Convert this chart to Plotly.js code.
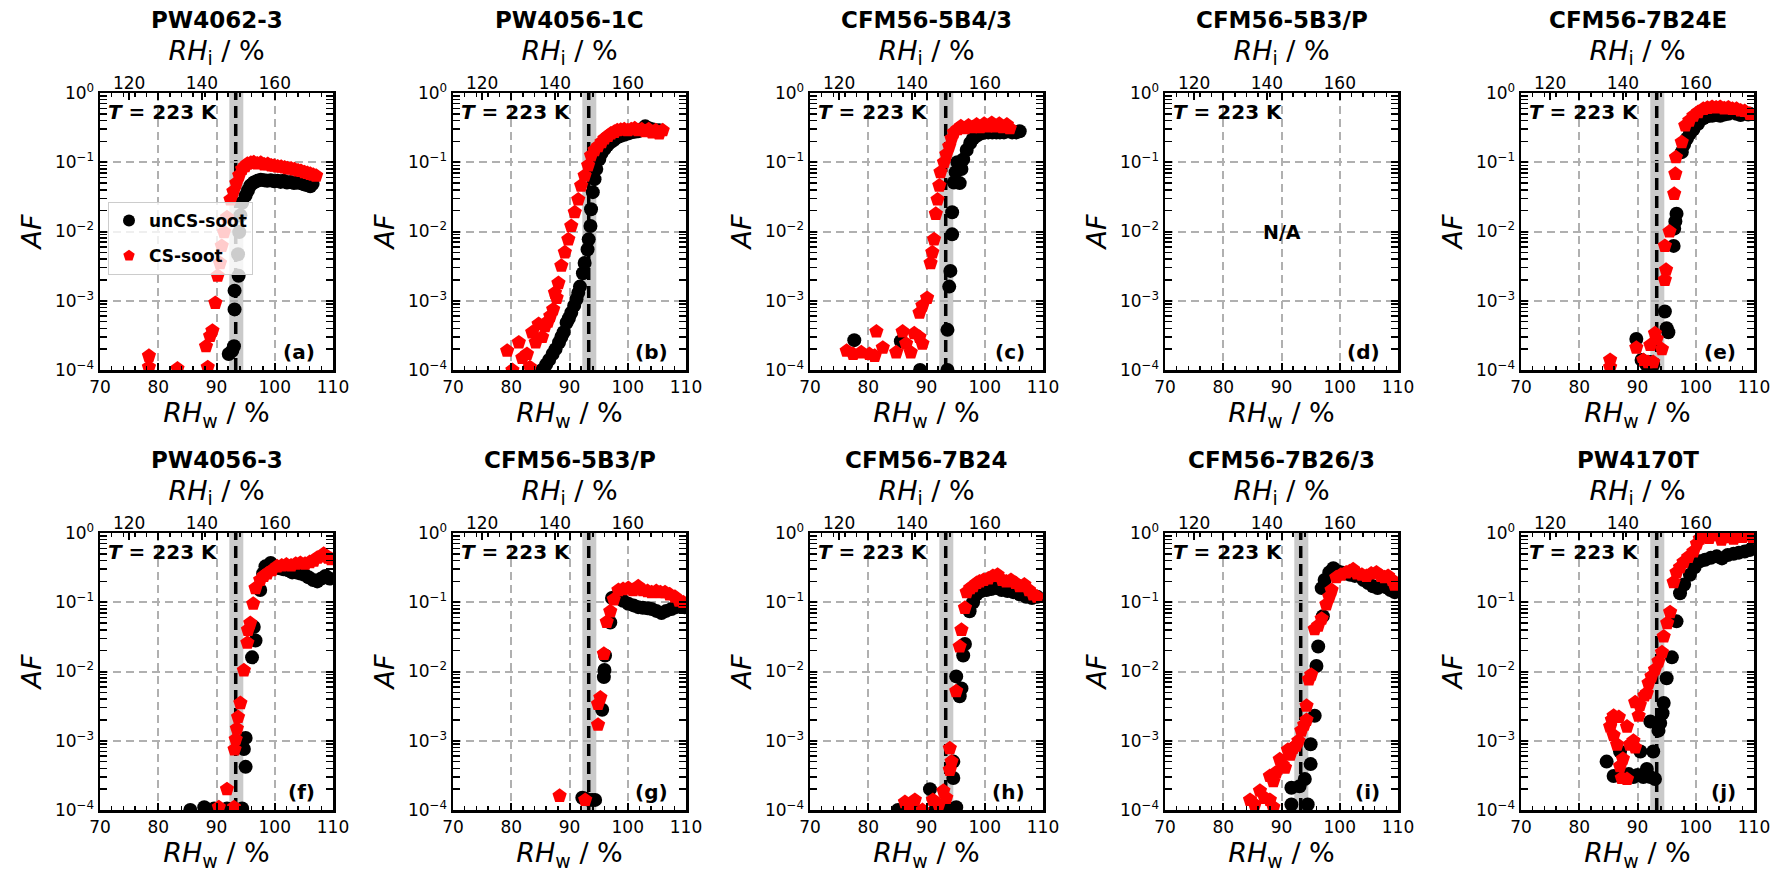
<!DOCTYPE html>
<html>
<head>
<meta charset="utf-8">
<script src="https://cdn.plot.ly/plotly-3.0.1.min.js"></script>
<style>
  html, body { margin: 0; padding: 0; background: #fff; }
  #chart { width: 1786px; height: 881px; }
</style>
</head>
<body>
<div id="chart"></div>
<script>
// ── Data: activated fraction (AF) vs RHw at T = 223 K, [RHw %, AF] pairs ──────
const ENGINES = ['PW4062-3', 'PW4056-1C', 'CFM56-5B4/3', 'CFM56-5B3/P', 'CFM56-7B24E',
                 'PW4056-3', 'CFM56-5B3/P', 'CFM56-7B24', 'CFM56-7B26/3', 'PW4170T'];
const PANEL_LABELS = ['(a)', '(b)', '(c)', '(d)', '(e)', '(f)', '(g)', '(h)', '(i)', '(j)'];
const SERIES_NAMES = ['unCS-soot', 'CS-soot'];

const RHI_TICKS   = [120, 140, 160];
const RHI_PER_RHW = 1.6;          // ice / water saturation ratio at 223 K
const ONSET_RHW   = 93.3;         // dashed line
const ONSET_BAND  = [92.2, 94.6]; // grey band

const unA = [[92.1,1.7e-4],[93.0,2.2e-4],[92.7,1.9e-4],[93.1,7.5e-4],[93.1,1.4e-3],[93.8,2.3e-3],[93.7,4.7e-3],[93.9,9.8e-3],[94.1,1.7e-2],[94.4,2.6e-2],[95.0,3.3e-2],[95.4,3.9e-2],[95.8,4.6e-2],[96.4,5.1e-2],[97.0,5.4e-2],[97.6,5.6e-2],[98.2,5.5e-2],[98.7,5.4e-2],[99.3,5.5e-2],[99.9,5.3e-2],[100.5,5.4e-2],[101.0,5.2e-2],[101.5,5.4e-2],[102.1,5.1e-2],[102.7,5.2e-2],[103.3,5.0e-2],[103.8,5.1e-2],[104.4,5.0e-2],[105.0,4.8e-2],[105.5,4.7e-2],[106.1,4.5e-2],[106.5,4.9e-2]];
const csA = [[78.4,1.6e-4],[78.4,1.1e-4],[83.3,1.05e-4],[88.5,1.1e-4],[88.2,2.2e-4],[88.9,3.1e-4],[89.3,3.7e-4],[89.8,9.3e-4],[90.2,2.3e-3],[90.6,3.5e-3],[90.9,6.2e-3],[91.3,9.8e-3],[91.8,1.6e-2],[92.4,2.9e-2],[92.9,3.8e-2],[93.4,5.0e-2],[93.9,6.5e-2],[94.4,8.0e-2],[94.9,8.8e-2],[95.3,9.5e-2],[95.9,9.8e-2],[96.4,1.0e-1],[97.0,9.6e-2],[97.6,9.8e-2],[98.2,9.3e-2],[98.8,9.4e-2],[99.4,9.0e-2],[99.9,8.9e-2],[100.5,8.7e-2],[101.1,8.6e-2],[101.7,8.4e-2],[102.2,8.2e-2],[102.8,8.1e-2],[103.4,7.9e-2],[104.0,7.6e-2],[104.5,7.5e-2],[105.1,7.2e-2],[105.6,7.0e-2],[106.1,6.8e-2],[106.6,6.6e-2],[107.1,6.4e-2]];

const unB = [[85.3,1.0e-4],[86.0,1.2e-4],[86.5,1.4e-4],[87.1,1.7e-4],[87.6,2.0e-4],[88.2,2.5e-4],[88.6,3.0e-4],[89.0,3.5e-4],[89.5,4.8e-4],[89.9,5.6e-4],[90.3,6.7e-4],[90.8,8.5e-4],[91.2,1.05e-3],[91.5,1.3e-3],[91.8,1.6e-3],[92.3,2.5e-3],[92.6,3.5e-3],[93.1,5.5e-3],[93.3,7.7e-3],[93.6,1.2e-2],[93.7,2.1e-2],[94.0,3.7e-2],[94.3,5.7e-2],[94.6,8.0e-2],[95.1,1.1e-1],[95.5,1.35e-1],[96.0,1.55e-1],[96.5,1.75e-1],[97.1,1.95e-1],[97.6,2.1e-1],[98.2,2.3e-1],[98.8,2.4e-1],[99.4,2.5e-1],[100.0,2.6e-1],[100.6,2.7e-1],[101.2,2.75e-1],[101.8,2.8e-1],[102.4,3.0e-1],[103.0,3.3e-1],[103.6,3.1e-1],[104.2,3.0e-1],[104.8,2.9e-1],[105.4,2.9e-1]];
const csB = [[79.3,1.9e-4],[80.2,1.0e-4],[81.3,2.5e-4],[81.9,1.5e-4],[82.7,1.7e-4],[83.2,1.1e-4],[83.6,3.5e-4],[84.2,2.5e-4],[84.7,4.6e-4],[85.3,3.0e-4],[85.8,4.3e-4],[86.3,5.0e-4],[86.7,6.0e-4],[87.2,7.5e-4],[87.5,1.3e-3],[87.8,1.1e-3],[88.1,1.8e-3],[88.6,3.2e-3],[89.2,5.0e-3],[89.8,7.7e-3],[90.3,1.2e-2],[90.9,1.9e-2],[91.5,2.9e-2],[92.0,4.6e-2],[92.6,6.4e-2],[93.2,9.0e-2],[93.7,1.25e-1],[94.3,1.5e-1],[94.9,1.7e-1],[95.5,1.95e-1],[96.0,2.2e-1],[96.6,2.4e-1],[97.1,2.6e-1],[97.7,2.75e-1],[98.2,2.9e-1],[98.8,2.95e-1],[99.4,3.0e-1],[100.0,2.9e-1],[100.6,3.0e-1],[101.2,3.1e-1],[101.8,2.9e-1],[102.4,3.0e-1],[103.0,2.8e-1],[103.6,3.0e-1],[104.2,2.7e-1],[104.8,2.9e-1],[105.4,2.6e-1],[106.0,2.9e-1]];

const unC = [[77.6,2.7e-4],[85.6,2.6e-4],[88.9,1.0e-4],[93.6,1.0e-4],[93.6,3.8e-4],[93.9,1.6e-3],[94.1,2.7e-3],[94.4,9.1e-3],[94.4,1.9e-2],[94.7,5.1e-2],[95.0,7.2e-2],[95.3,1.0e-1],[95.7,5.0e-2],[96.0,8.0e-2],[96.3,1.1e-1],[96.9,1.5e-1],[97.5,1.9e-1],[98.0,2.2e-1],[98.6,2.4e-1],[99.3,2.6e-1],[100.0,2.7e-1],[100.6,2.7e-1],[101.3,2.7e-1],[102.0,2.7e-1],[102.6,2.7e-1],[103.3,2.7e-1],[104.0,2.8e-1],[104.7,2.7e-1],[105.4,2.7e-1],[106.0,2.8e-1]];
const csC = [[76.3,1.9e-4],[77.4,1.7e-4],[78.8,1.8e-4],[80.2,1.7e-4],[81.1,1.6e-4],[81.4,3.6e-4],[82.5,2.1e-4],[84.8,1.8e-4],[85.9,3.6e-4],[86.5,2.4e-4],[87.3,1.8e-4],[87.9,3.4e-4],[88.8,3.0e-4],[89.3,2.4e-4],[88.8,6.7e-4],[89.3,8.5e-4],[90.1,1.1e-3],[90.7,3.5e-3],[91.0,5.0e-3],[91.3,7.7e-3],[91.6,1.8e-2],[91.9,2.9e-2],[92.2,4.6e-2],[92.4,7.2e-2],[93.0,1.0e-1],[93.4,1.3e-1],[93.9,1.7e-1],[94.3,2.2e-1],[94.7,2.7e-1],[95.3,3.0e-1],[95.9,3.3e-1],[96.6,3.1e-1],[97.2,3.4e-1],[97.9,3.2e-1],[98.6,3.5e-1],[99.2,3.2e-1],[99.9,3.6e-1],[100.5,3.3e-1],[101.2,3.7e-1],[101.8,3.3e-1],[102.5,3.6e-1],[103.1,3.2e-1],[103.8,3.5e-1],[104.3,3.1e-1]];

const unE = [[89.8,2.8e-4],[90.7,1.4e-4],[91.5,1.2e-4],[92.2,1.3e-4],[92.7,1.2e-4],[94.7,7.0e-4],[95.0,4.0e-4],[95.3,3.5e-4],[96.2,6.2e-3],[96.3,1.1e-2],[96.5,1.4e-2],[96.7,1.8e-2],[97.6,1.4e-1],[98.0,1.8e-1],[98.5,2.2e-1],[99.0,2.6e-1],[99.6,3.0e-1],[100.4,3.6e-1],[101.3,4.3e-1],[102.0,4.6e-1],[102.8,4.7e-1],[103.5,4.8e-1],[104.2,4.7e-1],[104.9,4.9e-1],[105.6,5.0e-1],[106.3,5.3e-1],[107.0,5.0e-1],[107.7,4.8e-1],[108.4,5.1e-1],[109.0,4.9e-1],[109.3,5.0e-1]];
const csE = [[85.3,1.4e-4],[85.3,1.1e-4],[89.8,2.1e-4],[91.0,1.4e-4],[91.8,1.3e-4],[92.2,2.3e-4],[93.0,3.4e-4],[93.3,2.8e-4],[92.7,1.3e-4],[94.2,2.0e-4],[94.7,2.0e-3],[94.9,2.8e-3],[94.7,6.2e-3],[95.5,1.0e-2],[96.3,3.5e-2],[96.5,6.8e-2],[96.6,1.18e-1],[97.6,1.95e-1],[98.2,3.4e-1],[98.9,4.0e-1],[99.6,4.7e-1],[100.4,5.3e-1],[101.3,5.9e-1],[102.0,6.1e-1],[102.8,6.3e-1],[103.5,6.2e-1],[104.2,6.3e-1],[104.9,6.0e-1],[105.6,6.2e-1],[106.3,5.9e-1],[107.0,5.9e-1],[107.7,5.6e-1],[108.4,5.5e-1],[109.3,5.0e-1]];

const unF = [[85.5,1.0e-4],[87.9,1.1e-4],[89.6,1.05e-4],[91.8,1.05e-4],[94.4,1.05e-4],[95.0,4.2e-4],[94.7,7.6e-4],[95.0,1.1e-3],[96.1,1.6e-2],[96.7,2.8e-2],[96.4,4.4e-2],[97.5,1.5e-1],[98.0,2.6e-1],[98.4,3.3e-1],[99.3,3.7e-1],[100.0,3.3e-1],[100.8,3.1e-1],[101.5,3.0e-1],[102.3,2.9e-1],[103.0,2.7e-1],[103.7,2.7e-1],[104.4,2.6e-1],[105.1,2.5e-1],[105.8,2.3e-1],[106.6,2.1e-1],[107.3,2.0e-1],[108.0,2.2e-1],[108.7,2.4e-1],[109.4,2.2e-1]];
const csF = [[90.4,1.1e-4],[91.8,2.0e-4],[93.0,1.1e-4],[93.3,1.05e-3],[93.1,7.5e-4],[93.5,1.5e-3],[93.7,2.2e-3],[94.1,3.5e-3],[94.7,1.04e-2],[95.3,2.6e-2],[95.4,4.0e-2],[95.8,5.0e-2],[96.3,9.5e-2],[96.7,1.6e-1],[97.5,2.1e-1],[98.1,2.4e-1],[98.7,2.6e-1],[99.5,2.9e-1],[100.4,3.3e-1],[101.2,3.4e-1],[102.0,3.5e-1],[102.8,3.4e-1],[103.6,3.6e-1],[104.4,3.7e-1],[105.2,3.6e-1],[106.0,3.8e-1],[106.7,4.0e-1],[107.3,4.4e-1],[108.0,4.6e-1],[108.4,5.0e-1],[109.2,4.4e-1],[109.7,4.2e-1]];

const unG = [[92.2,1.5e-4],[92.8,1.45e-4],[93.3,1.4e-4],[93.9,1.4e-4],[94.4,1.4e-4],[95.6,2.8e-3],[95.9,8.3e-3],[96.0,1.05e-2],[96.1,1.7e-2],[97.0,5.1e-2],[97.3,1.15e-1],[97.9,1.2e-1],[98.4,1.2e-1],[99.2,1.05e-1],[100.1,9.5e-2],[101.0,9.0e-2],[101.8,8.5e-2],[102.6,8.3e-2],[103.4,8.2e-2],[104.1,8.0e-2],[104.9,7.5e-2],[105.8,7.0e-2],[106.6,7.5e-2],[107.5,8.0e-2],[108.3,8.5e-2],[109.0,9.0e-2],[109.7,8.5e-2]];
const csG = [[88.3,1.6e-4],[92.7,1.4e-4],[94.9,1.7e-3],[94.9,3.4e-3],[95.3,4.2e-3],[95.9,1.8e-2],[96.4,5.2e-2],[97.0,7.4e-2],[97.6,1.1e-1],[98.4,1.5e-1],[99.2,1.55e-1],[100.1,1.6e-1],[100.9,1.5e-1],[101.8,1.7e-1],[102.6,1.5e-1],[103.4,1.45e-1],[104.1,1.4e-1],[104.9,1.45e-1],[105.6,1.4e-1],[106.4,1.4e-1],[107.2,1.3e-1],[108.1,1.2e-1],[108.8,1.05e-1],[109.5,1.0e-1]];

const unH = [[85.1,1.0e-4],[86.5,1.05e-4],[88.0,1.0e-4],[90.6,2.0e-4],[91.5,1.0e-4],[93.4,1.1e-4],[95.1,1.1e-4],[94.6,5.0e-4],[94.6,2.9e-4],[95.1,8.5e-3],[96.0,5.7e-3],[95.7,4.4e-3],[96.3,1.7e-2],[96.6,2.5e-2],[97.4,7.4e-2],[98.0,1.0e-1],[98.6,1.3e-1],[99.4,1.45e-1],[100.3,1.5e-1],[101.1,1.55e-1],[102.0,1.6e-1],[102.9,1.5e-1],[103.9,1.45e-1],[104.9,1.4e-1],[106.0,1.3e-1],[107.1,1.2e-1],[108.1,1.15e-1],[109.0,1.2e-1]];
const csH = [[86.3,1.3e-4],[87.1,1.1e-4],[88.0,1.4e-4],[89.3,1.0e-4],[91.1,1.4e-4],[92.1,1.2e-4],[92.9,1.9e-4],[93.4,1.5e-4],[94.0,7.8e-4],[94.0,3.8e-4],[94.3,5.0e-4],[95.1,5.2e-3],[95.7,2.3e-2],[96.0,4.0e-2],[96.6,8.3e-2],[96.9,1.4e-1],[97.5,1.6e-1],[98.0,1.7e-1],[98.6,1.9e-1],[99.1,2.0e-1],[99.8,2.1e-1],[100.6,2.2e-1],[101.4,2.4e-1],[102.2,2.5e-1],[103.0,2.1e-1],[103.7,2.0e-1],[104.5,2.1e-1],[105.3,1.9e-1],[106.0,1.7e-1],[106.8,1.8e-1],[107.6,1.5e-1],[108.3,1.3e-1],[109.0,1.2e-1]];

const unI = [[91.7,1.2e-4],[91.7,2.1e-4],[93.1,2.2e-4],[94.0,2.8e-4],[94.5,1.2e-4],[95.0,4.6e-4],[95.0,8.9e-4],[95.7,2.3e-3],[96.0,1.2e-2],[96.3,2.3e-2],[97.1,6.3e-2],[96.9,1.6e-1],[97.4,2.1e-1],[98.2,2.7e-1],[98.9,3.1e-1],[99.6,2.8e-1],[100.3,2.7e-1],[101.1,2.6e-1],[101.8,2.5e-1],[102.6,2.4e-1],[103.4,2.4e-1],[104.1,2.1e-1],[104.9,1.9e-1],[105.7,1.7e-1],[106.5,1.6e-1],[107.2,1.7e-1],[108.0,1.65e-1],[108.7,1.5e-1],[109.4,1.4e-1]];
const csI = [[84.6,1.4e-4],[85.4,1.2e-4],[86.3,1.9e-4],[87.1,1.5e-4],[88.0,1.4e-4],[88.6,1.1e-4],[88.0,3.1e-4],[88.6,2.6e-4],[89.1,3.5e-4],[89.7,5.4e-4],[90.2,4.5e-4],[90.6,4.1e-4],[91.1,7.4e-4],[91.5,6.3e-4],[92.0,7.9e-4],[92.5,8.5e-4],[92.9,1.0e-3],[93.4,1.4e-3],[93.9,1.7e-3],[94.3,2.0e-3],[94.3,3.2e-3],[94.7,7.7e-3],[95.1,9.0e-3],[95.7,4.1e-2],[96.3,4.6e-2],[96.9,5.8e-2],[97.7,9.3e-2],[98.2,1.2e-1],[98.6,1.5e-1],[99.4,2.3e-1],[100.2,2.5e-1],[101.1,2.7e-1],[101.7,2.8e-1],[102.3,3.0e-1],[103.0,2.6e-1],[103.8,2.5e-1],[104.6,2.4e-1],[105.4,2.6e-1],[106.3,2.7e-1],[107.1,2.4e-1],[107.7,2.3e-1],[108.3,2.4e-1],[109.0,2.1e-1],[109.4,1.8e-1]];

const unJ = [[84.7,5.0e-4],[85.9,3.1e-4],[87.0,7.0e-4],[87.8,3.0e-4],[88.5,3.3e-4],[89.3,3.0e-4],[90.0,3.2e-4],[90.5,7.0e-4],[91.0,3.0e-4],[91.6,3.9e-4],[92.2,3.0e-4],[92.7,7.0e-4],[93.0,2.8e-4],[92.2,1.9e-3],[93.9,1.8e-3],[93.6,1.4e-3],[94.5,3.5e-3],[94.3,2.5e-3],[95.0,8.0e-3],[95.9,1.6e-2],[96.7,5.3e-2],[97.3,1.35e-1],[98.0,1.8e-1],[99.0,2.5e-1],[99.8,3.2e-1],[100.7,3.9e-1],[101.6,4.1e-1],[102.6,4.4e-1],[103.6,4.6e-1],[104.5,4.3e-1],[105.5,4.8e-1],[106.5,5.0e-1],[107.4,5.2e-1],[108.4,5.4e-1],[109.3,5.7e-1]];
const csJ = [[87.3,2.9e-4],[88.2,2.8e-4],[87.0,4.3e-4],[87.5,5.5e-4],[86.5,8.8e-4],[85.9,1.2e-3],[85.3,1.6e-3],[85.6,2.0e-3],[85.9,2.3e-3],[86.8,2.2e-3],[88.2,1.6e-3],[89.3,1.0e-3],[88.7,8.8e-4],[89.6,8.0e-4],[90.2,2.3e-3],[89.6,3.6e-3],[90.4,3.3e-3],[91.2,4.5e-3],[91.6,4.9e-3],[91.9,6.8e-3],[92.4,8.5e-3],[93.0,1.07e-2],[93.6,1.4e-2],[94.2,1.9e-2],[94.5,3.2e-2],[95.1,5.0e-2],[95.6,7.2e-2],[96.2,1.95e-1],[96.7,2.7e-1],[97.3,3.2e-1],[97.9,3.8e-1],[98.7,4.5e-1],[99.6,5.4e-1],[100.2,7.0e-1],[100.7,8.3e-1],[101.5,9.0e-1],[102.3,8.5e-1],[103.0,9.5e-1],[103.6,9.3e-1],[104.4,8.0e-1],[105.1,9.0e-1],[105.8,8.7e-1],[106.5,8.3e-1],[107.2,9.2e-1],[108.0,8.8e-1],[108.7,9.5e-1],[109.3,9.3e-1],[109.8,8.5e-1]];

// panel (d) has no data
const PANEL_DATA = [[unA, csA], [unB, csB], [unC, csC], null, [unE, csE],
                    [unF, csF], [unG, csG], [unH, csH], [unI, csI], [unJ, csJ]];

// ── Styling ──────────────────────────────────────────────────────────────────
const FONT   = 'DejaVu Sans, sans-serif';
const COLORS = ['#000000', '#ff0000'];
const SYMBOL = ['circle', 'pentagon'];
const MSIZE  = [14, 15];

// pixel layout of the 2 x 5 grid (page is 1786 x 881)
const W = 1786, H = 881;
const COL_LEFT = [100, 453, 810, 1165, 1521];
const PANEL_W  = 233;
const ROW_TOP  = [93, 533];
const PANEL_H  = 277;

const suffix = k => (k === 0 ? '' : String(k + 1));

const traces = [];
const layout = {
  width: W, height: H,
  margin: { t: 0, r: 0, b: 0, l: 0 },
  paper_bgcolor: '#fff',
  plot_bgcolor:  'rgba(0,0,0,0)',
  font: { family: FONT, color: '#000' },
  showlegend: true,
  legend: {
    x: 108 / W, y: 1 - 202 / H, xanchor: 'left', yanchor: 'top',
    bgcolor: 'rgba(255,255,255,0.8)', bordercolor: '#cccccc', borderwidth: 1,
    font: { family: FONT, size: 17, color: '#000', weight: 'bold' },
    itemsizing: 'constant',
  },
  shapes: [],
  annotations: [],
};

ENGINES.forEach((engine, k) => {
  const s   = suffix(k);
  const row = Math.floor(k / 5);
  const col = k % 5;
  const x0 = COL_LEFT[col] / W;
  const x1 = (COL_LEFT[col] + PANEL_W) / W;
  const y1 = 1 - ROW_TOP[row] / H;
  const y0 = 1 - (ROW_TOP[row] + PANEL_H) / H;

  layout['xaxis' + s] = {
    domain: [x0, x1], anchor: 'y' + s,
    range: [70, 110], autorange: false,
    tick0: 70, dtick: 10,
    ticks: 'inside', ticklen: 7, tickwidth: 2, tickcolor: '#000',
    minor: { dtick: 2, ticks: 'inside', ticklen: 4, tickwidth: 1.5, tickcolor: '#000', showgrid: false },
    showline: true, linewidth: 2.5, linecolor: '#000', mirror: 'allticks',
    showgrid: true, gridcolor: '#b0b0b0', gridwidth: 2, griddash: '8px,5px',
    zeroline: false,
    tickfont: { family: FONT, size: 17, color: '#000' },
    title: { text: '<i>RH</i><sub>w</sub> / %', font: { family: FONT, size: 27 }, standoff: 4 },
  };

  layout['yaxis' + s] = {
    domain: [y0, y1], anchor: 'x' + s,
    type: 'log', range: [-4, 0], autorange: false,
    tickmode: 'array',
    tickvals: [1e-4, 1e-3, 1e-2, 1e-1, 1],
    ticktext: ['10<sup>−4</sup>', '10<sup>−3</sup>', '10<sup>−2</sup>', '10<sup>−1</sup>', '10<sup>0</sup>'],
    ticks: 'inside', ticklen: 7, tickwidth: 2, tickcolor: '#000',
    minor: { dtick: 'D1', ticks: 'inside', ticklen: 4, tickwidth: 1.5, tickcolor: '#000', showgrid: false },
    showline: true, linewidth: 2.5, linecolor: '#000', mirror: 'allticks',
    showgrid: true, gridcolor: '#b0b0b0', gridwidth: 2, griddash: '8px,5px',
    zeroline: false,
    tickfont: { family: FONT, size: 17, color: '#000' },
    title: { text: '<i>AF</i>', font: { family: FONT, size: 27 }, standoff: 6 },
  };

  // secondary top axis in RHi
  const t = String(11 + k);
  layout['xaxis' + t] = {
    overlaying: 'x' + s, anchor: 'y' + s, side: 'top',
    range: [70, 110], autorange: false,
    tickmode: 'array',
    tickvals: RHI_TICKS.map(v => v / RHI_PER_RHW),
    ticktext: RHI_TICKS.map(String),
    ticks: 'inside', ticklen: 7, tickwidth: 2, tickcolor: '#000',
    showline: false, showgrid: false, zeroline: false,
    tickfont: { family: FONT, size: 17, color: '#000' },
    title: { text: '<i>RH</i><sub>i</sub> / %', font: { family: FONT, size: 27 }, standoff: 4 },
  };
  traces.push({ type: 'scatter', mode: 'markers', x: [], y: [], xaxis: 'x' + t, yaxis: 'y' + s,
                showlegend: false, hoverinfo: 'skip' });

  const data = PANEL_DATA[k];
  if (data) {
    data.forEach((pts, j) => {
      traces.push({
        type: 'scatter', mode: 'markers',
        name: SERIES_NAMES[j], legendgroup: SERIES_NAMES[j],
        showlegend: k === 0,
        x: pts.map(p => p[0]), y: pts.map(p => p[1]),
        xaxis: 'x' + s, yaxis: 'y' + s,
        marker: { symbol: SYMBOL[j], size: MSIZE[j], color: COLORS[j], line: { width: 0 } },
      });
    });

    layout.shapes.push({
      type: 'rect', xref: 'x' + s, yref: 'y' + s + ' domain',
      x0: ONSET_BAND[0], x1: ONSET_BAND[1], y0: 0, y1: 1,
      fillcolor: 'rgba(128,128,128,0.42)', line: { width: 0 }, layer: 'below',
    });
    layout.shapes.push({
      type: 'line', xref: 'x' + s, yref: 'y' + s + ' domain',
      x0: ONSET_RHW, x1: ONSET_RHW, y0: 0, y1: 1,
      line: { color: '#000', width: 3.5, dash: '12px,6px' }, layer: 'below',
    });
  } else {
    traces.push({ type: 'scatter', mode: 'markers', x: [], y: [], xaxis: 'x' + s, yaxis: 'y' + s,
                  showlegend: false, hoverinfo: 'skip' });
    layout.annotations.push({
      xref: 'x' + s, yref: 'y' + s, x: 90, y: -2, showarrow: false,
      text: '<b>N/A</b>', font: { family: FONT, size: 19, color: '#000' },
    });
  }

  // engine name
  layout.annotations.push({
    xref: 'x' + s + ' domain', yref: 'paper', x: 0.5, y: 1 - (ROW_TOP[row] - 73) / H,
    xanchor: 'center', yanchor: 'middle', showarrow: false,
    text: '<b>' + engine + '</b>', font: { family: FONT, size: 23, color: '#000' },
  });
  // temperature note
  layout.annotations.push({
    xref: 'x' + s + ' domain', yref: 'y' + s + ' domain', x: 0.025, y: 0.93,
    xanchor: 'left', yanchor: 'middle', showarrow: false,
    text: '<b><i>T</i> = 223 K</b>', font: { family: FONT, size: 20, color: '#000' },
  });
  // panel label
  layout.annotations.push({
    xref: 'x' + s + ' domain', yref: 'y' + s + ' domain', x: 0.93, y: 0.065,
    xanchor: 'right', yanchor: 'middle', showarrow: false,
    text: '<b>' + PANEL_LABELS[k] + '</b>', font: { family: FONT, size: 20, color: '#000' },
  });
});

Plotly.newPlot('chart', traces, layout, { displayModeBar: false, staticPlot: true });
</script>
</body>
</html>
